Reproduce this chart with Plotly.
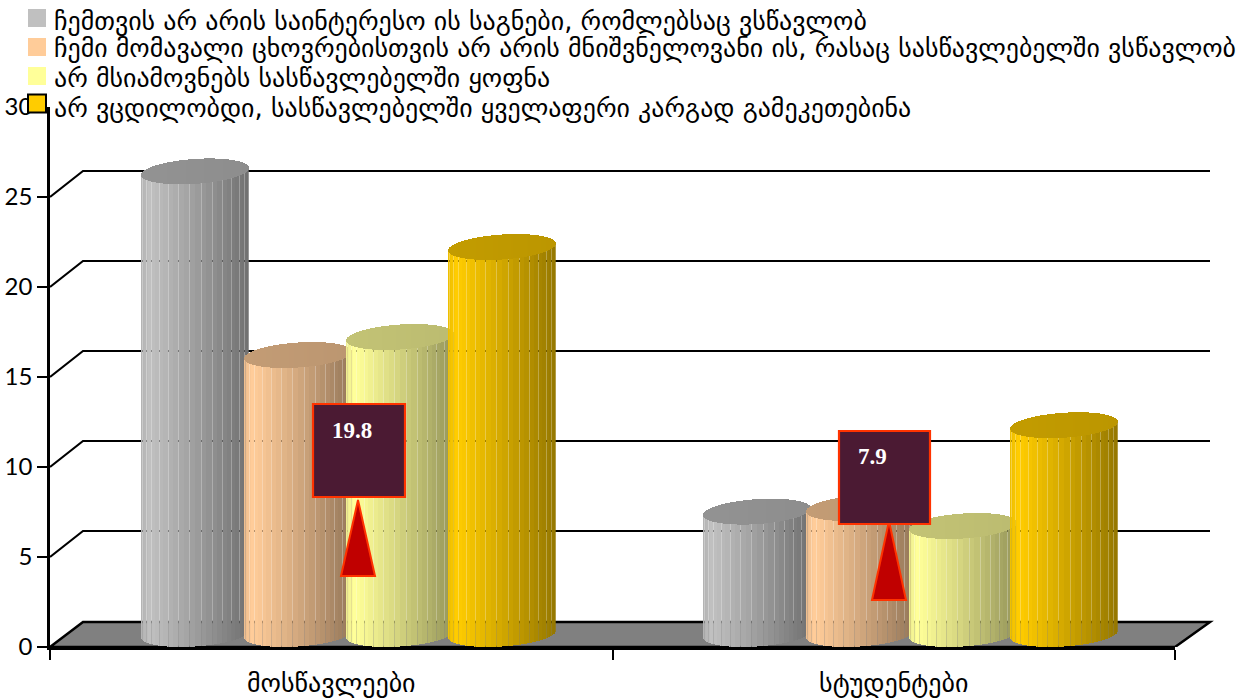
import math
import plotly.graph_objects as go

categories = ["მოსწავლეები", "სტუდენტები"]
series_names = [
    "ჩემთვის არ არის საინტერესო ის საგნები, რომლებსაც ვსწავლობ",
    "ჩემი მომავალი ცხოვრებისთვის არ არის მნიშვნელოვანი ის, რასაც სასწავლებელში ვსწავლობ",
    "არ მსიამოვნებს სასწავლებელში ყოფნა",
    "არ ვცდილობდი, სასწავლებელში ყველაფერი კარგად გამეკეთებინა",
]
series_1 = [25.7, 6.8]
series_2 = [15.5, 7.0]
series_3 = [16.5, 6.0]
series_4 = [21.5, 11.6]
series_values = [series_1, series_2, series_3, series_4]
series_colors = [(192, 192, 192), (255, 204, 153), (255, 255, 153), (255, 204, 0)]
y_ticks = [0, 5, 10, 15, 20, 25, 30]
callout_labels = ["19.8", "7.9"]

W, H = 1248, 700
L, R, T, B = 50, 1175, 107, 647
PX_X = (R - L) / 2.0
PX_Y = (B - T) / 30.0
FONT_GE = "DejaVu Sans"
FONT_NUM = "Lato"


def px(x):
    return (x - L) / (R - L)


def py(y):
    return (B - y) / (B - T)


A = 54.0      # half width of a cylinder
ELL_B = 12.5  # half height of its ellipse
ELL_S = 3.5   # tilt
BASE_PX = 13.0
FACETS = 30
OFFSETS = [-136.5, -33.5, 69.0, 170.5]
seam_u = [-math.cos(math.pi * k / FACETS) for k in range(FACETS + 1)]


def shade(u):
    if u < -0.85:
        return 0.93 + (u + 1) * 0.45
    return 1.0 - 0.42 * ((u + 0.85) / 1.85) ** 1.1


def facet_of(u):
    for k in range(FACETS):
        if u <= seam_u[k + 1]:
            return k
    return FACETS - 1


fig = go.Figure()
CAP = 0.75
for s, (name, vals, col) in enumerate(zip(series_names, series_values, series_colors)):
    xs, bases, ys, widths, colors = [], [], [], [], []
    for c, v in enumerate(vals):
        centre_px = (c + 0.5) * PX_X + OFFSETS[s]   # from the left of the plot
        left_px = round(centre_px - A)
        n = int(2 * A)
        sx, sb, sy, sc = [], [], [], []
        cx, cb, cy, cc = [], [], [], []
        last_facet = None
        for i in range(n):
            u = (i + 0.5 - A) / A
            root = math.sqrt(max(0.0, 1 - u * u))
            x = (left_px + i + 0.5) / PX_X - 0.5
            bottom = (BASE_PX + ELL_S * u - ELL_B * root) / PX_Y
            top_mid = BASE_PX / PX_Y + v + ELL_S * u / PX_Y
            low = top_mid - ELL_B * root / PX_Y
            high = top_mid + ELL_B * root / PX_Y
            f = facet_of(u)
            m = (seam_u[f] + seam_u[f + 1]) / 2
            k = shade(m)
            rgb = [int(round(ch * k)) for ch in col]
            seam = last_facet is not None and f != last_facet and f % 2 == 0
            last_facet = f
            alpha = 0.72 if seam else 1.0
            sx.append(x)
            sb.append(bottom)
            sy.append(top_mid - bottom)
            sc.append(f"rgba({rgb[0]},{rgb[1]},{rgb[2]},{alpha})")
            cx.append(x)
            cb.append(low)
            cy.append(high - low)
            cr = [int(round(ch * CAP * (1 - 0.02 * u))) for ch in col]
            cc.append(f"rgb({cr[0]},{cr[1]},{cr[2]})")
        xs += sx + cx
        bases += sb + cb
        ys += sy + cy
        colors += sc + cc
        widths += [0.98 / PX_X] * (2 * n)
    fig.add_trace(go.Bar(x=xs, y=ys, base=bases, width=widths, name=name,
                         marker=dict(color=colors, line=dict(width=0)),
                         showlegend=False, hoverinfo="skip"))

shapes = []
BACK_DX = 33.0
BACK_X = px(L + BACK_DX)
END_X = px(1210)
DY = 26.0 / PX_Y
FLOOR = 25.0 / PX_Y
shapes.append(dict(type="path", xref="paper", yref="y", layer="below",
                   path=f"M 0 0 L {BACK_X} {FLOOR} L {END_X} {FLOOR} L 1 0 Z",
                   fillcolor="#808080", line=dict(color="black", width=2.5)))
for t in y_ticks[1:-1]:
    shapes.append(dict(type="path", xref="paper", yref="y", layer="below",
                       path=f"M 0 {t} L {BACK_X} {t + DY} L {END_X} {t + DY}",
                       line=dict(color="black", width=2.2)))

annotations = []
callouts = [((313, 404, 405, 497), (358, 500, 341, 375, 576), (352, 430)),
            ((839, 431, 930, 524), (889, 521, 872, 906, 600), (872, 456))]
for lab, (rect, tri, pos) in zip(callout_labels, callouts):
    apex_x, apex_y, b0, b1, by = tri
    shapes.append(dict(type="path", xref="paper", yref="paper", layer="above",
                       path=f"M {px(apex_x)} {py(apex_y)} L {px(b1)} {py(by)} L {px(b0)} {py(by)} Z",
                       fillcolor="#C00000", line=dict(color="#FF3300", width=2)))
    shapes.append(dict(type="rect", xref="paper", yref="paper", layer="above",
                       x0=px(rect[0]), x1=px(rect[2]), y0=py(rect[3]), y1=py(rect[1]),
                       fillcolor="#4B1A33", line=dict(color="#FF3300", width=2.2)))
    annotations.append(dict(xref="paper", yref="paper", x=px(pos[0]), y=py(pos[1]),
                            xanchor="center", yanchor="middle",
                            text=f"<b>{lab}</b>", showarrow=False,
                            font=dict(family="Liberation Serif", size=23, color="white")))

# legend, placed row by row as in the reference
legend_rows = [(9, 27, 21), (38, 56, 48), (67, 85, 78), (94.5, 112.5, 108)]
for s, (name, col, (k0, k1, ty)) in enumerate(zip(series_names, series_colors, legend_rows)):
    shapes.append(dict(type="rect", xref="paper", yref="paper", layer="above",
                       x0=px(28), x1=px(46), y0=py(k1), y1=py(k0),
                       fillcolor=f"rgb{col}",
                       line=dict(color="black", width=2) if s == 3 else dict(width=0)))
    annotations.append(dict(xref="paper", yref="paper", x=px(52), y=py(ty),
                            xanchor="left", yanchor="middle", text=name, showarrow=False,
                            font=dict(family=FONT_GE, size=25.9, color="black")))

fig.update_layout(
    width=W, height=H, autosize=False,
    margin=dict(l=L, r=W - R, t=T, b=H - B, pad=0, autoexpand=False),
    paper_bgcolor="white", plot_bgcolor="rgba(0,0,0,0)",
    barmode="overlay", bargap=0, showlegend=False,
    shapes=shapes, annotations=annotations,
    xaxis=dict(range=[-0.5, 1.5], tickmode="array", tickvals=[0, 1], ticktext=categories,
               ticks="", ticklabelstandoff=11, showgrid=False, zeroline=False,
               showline=True, linecolor="black", linewidth=2.5,
               tickfont=dict(family=FONT_GE, size=26, color="black"),
               minor=dict(tickmode="array", tickvals=[-0.5, 0.5, 1.5], ticks="outside",
                          ticklen=10, tickwidth=2, tickcolor="black", showgrid=False)),
    yaxis=dict(range=[0, 30], tickmode="array", tickvals=y_ticks, ticks="outside",
               ticklen=10, tickwidth=2, tickcolor="black", showgrid=False, zeroline=False,
               showline=True, linecolor="black", linewidth=2.5,
               tickfont=dict(family=FONT_NUM, size=24, color="black")),
)

fig.write_html("out.html", config=dict(displayModeBar=False),
               post_script="document.body.style.margin='0';")
